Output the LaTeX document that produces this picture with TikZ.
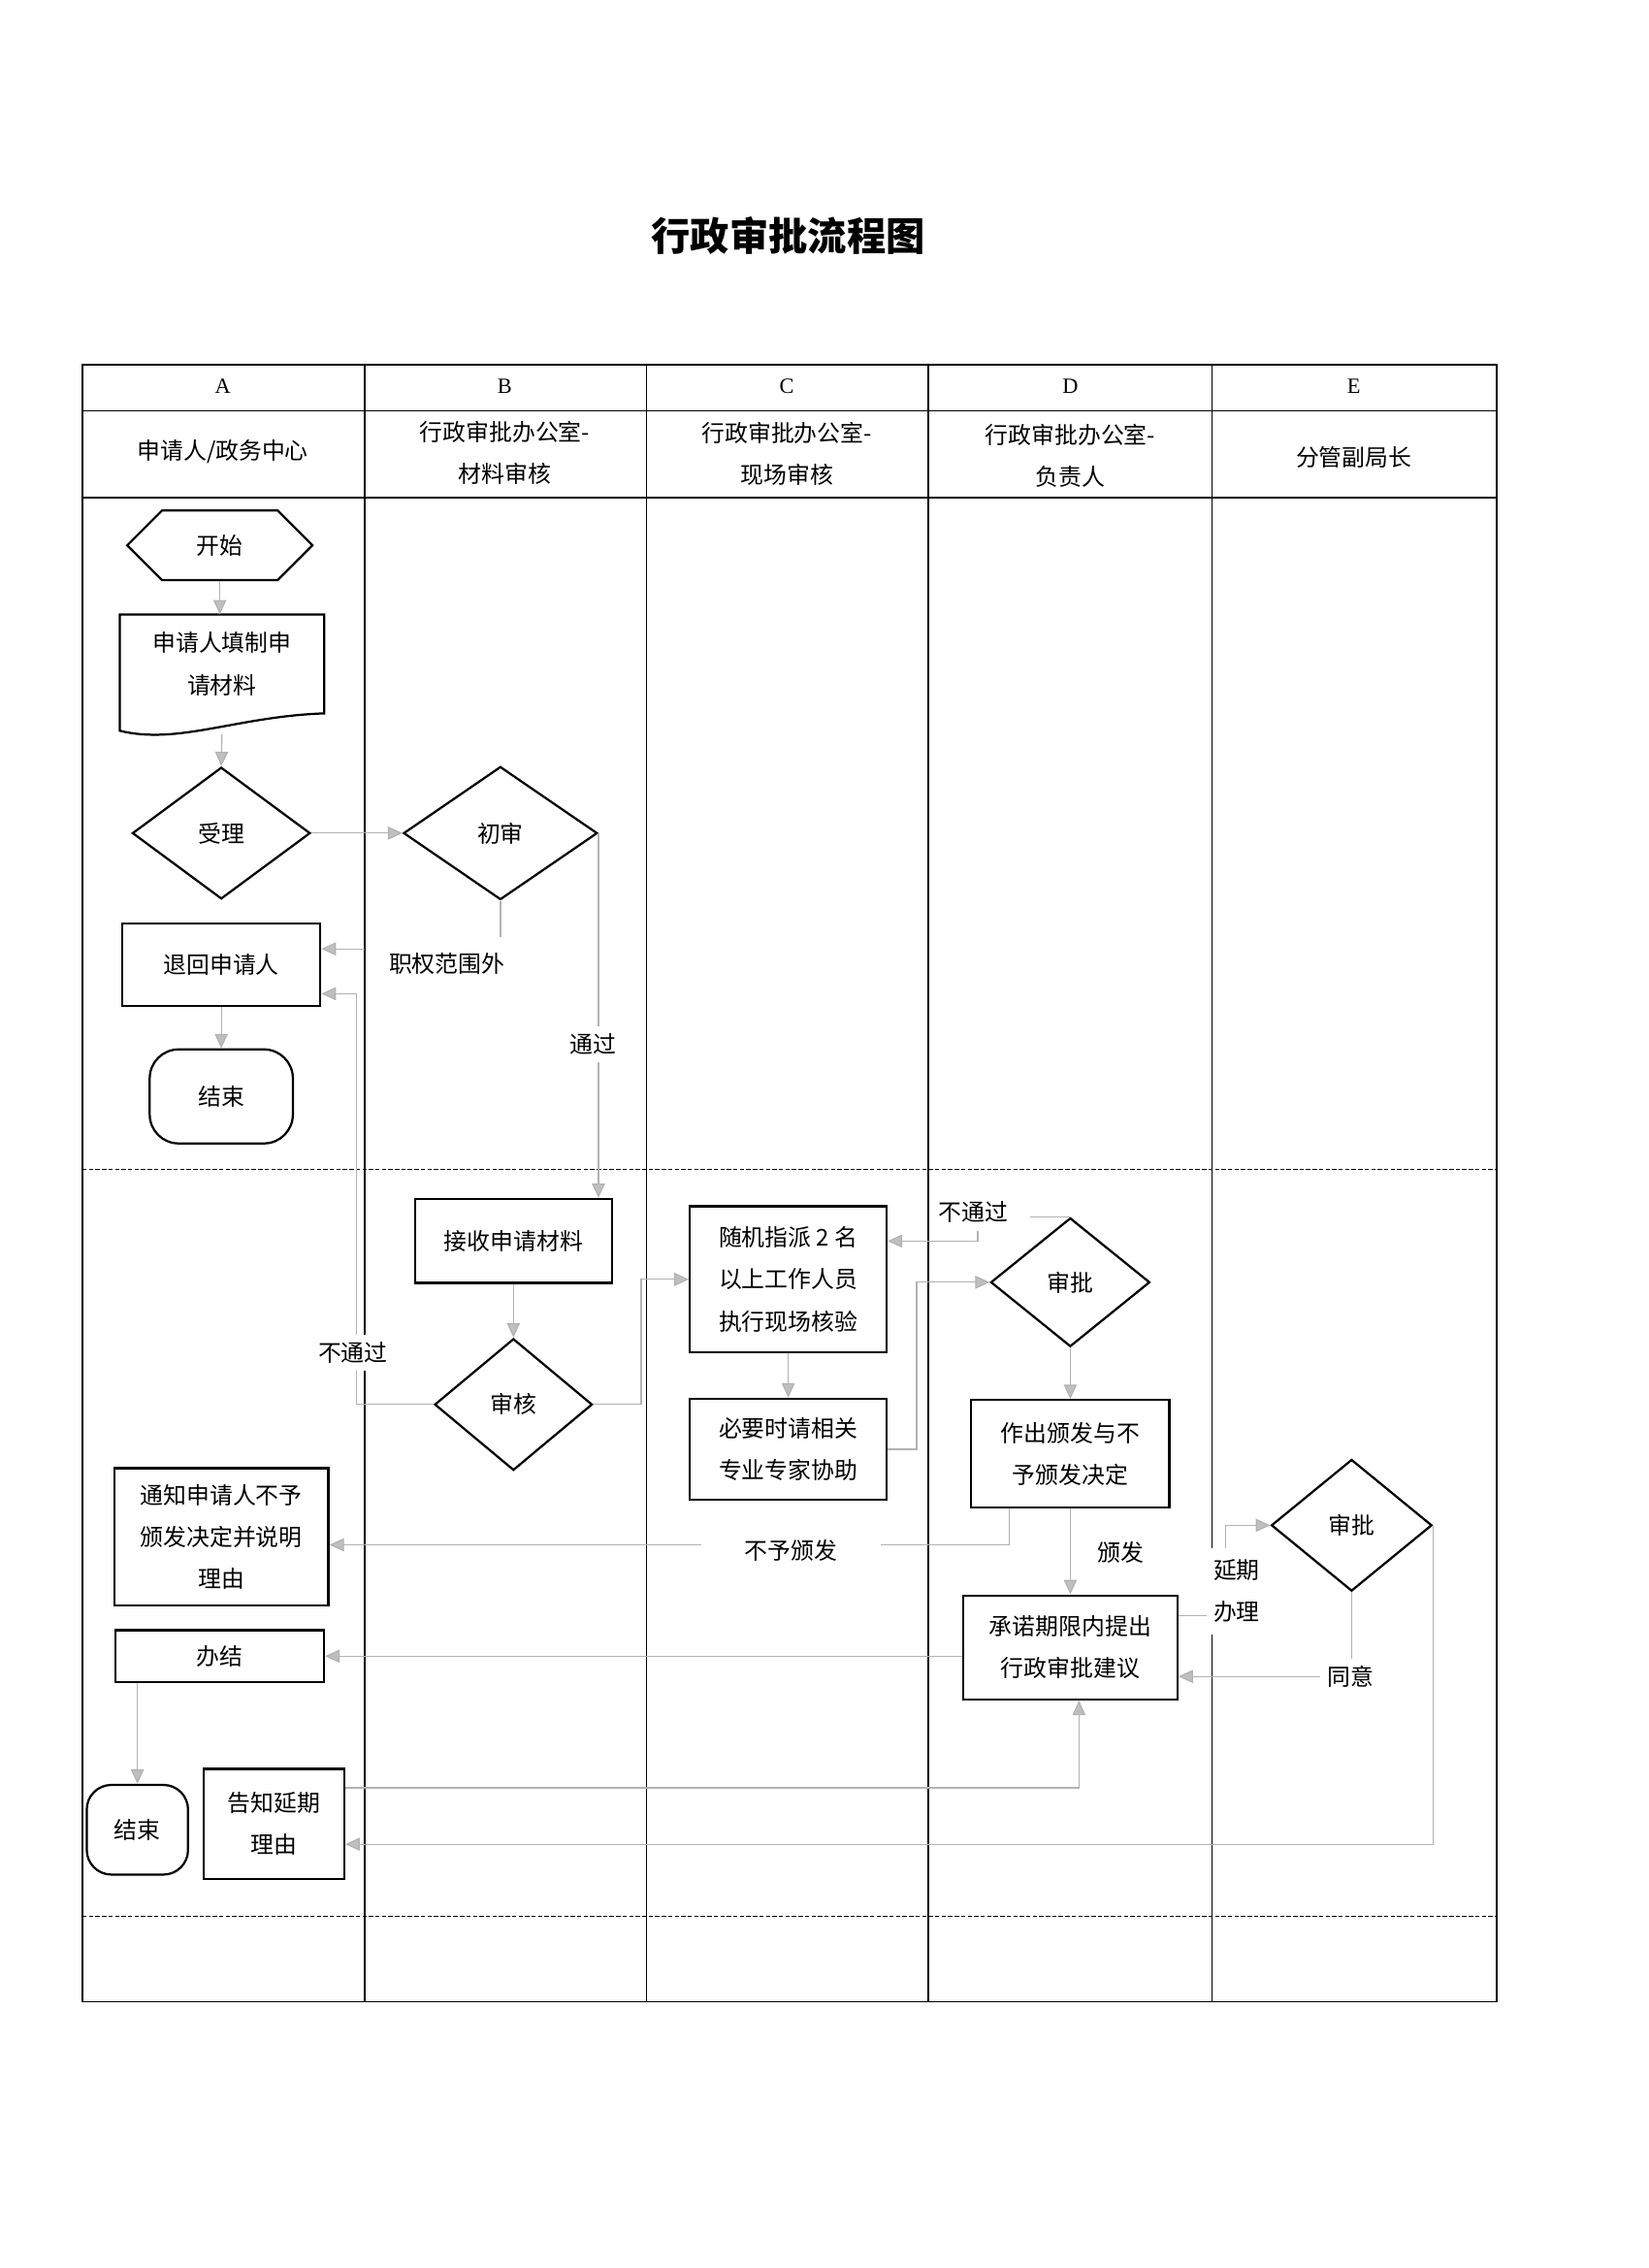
\documentclass[tikz,border=0pt]{standalone}
\usepackage{fontspec}
\setmainfont{Liberation Serif}
\newfontfamily\cjk{Noto Sans CJK SC}
\usetikzlibrary{shapes.geometric,shapes.symbols,arrows.meta}

\begin{document}
\begin{tikzpicture}[x=1pt,y=-1pt,
    zi/.style={font=\cjk\fontsize{16}{29}\selectfont, align=center},
    box/.style={zi, draw, line width=1.5pt, inner sep=0pt},
    pan/.style={zi, diamond, draw, line width=1.5pt, inner sep=0pt},
    duan/.style={zi, rectangle, rounded corners=20pt, draw, line width=1.5pt, inner sep=0pt},
    xian/.style={draw=gray!60, line width=0.8pt},
    jian/.style={xian, -{Triangle[width=9pt,length=10pt,fill=gray!50]}},
    biao/.style={zi, fill=white, inner sep=5pt}]
  \useasboundingbox (0,0) rectangle (1140,1568);

  % Tabelle
  \draw[line width=1.1pt] (57,252) rectangle (1035,1384);
  \draw[line width=1.1pt] (57,284) -- (1035,284);
  \draw[line width=1.1pt] (57,344) -- (1035,344);
  \draw[dash pattern=on 3pt off 1.5pt] (57,808) -- (1035,808);
  \draw[dash pattern=on 3pt off 1.5pt] (57,1325) -- (1035,1325);
  \foreach \x in {252,447,642,838} \draw[line width=1.1pt] (\x,252) -- (\x,1384);

  \node[font=\cjk\bfseries\fontsize{27}{30}\selectfont] (titel) at (545,163) {行政审批流程图};
  \foreach \x/\l in {154/A,349/B,544/C,740/D,936/E}
    \node[font=\fontsize{15}{17}\selectfont] (h\l) at (\x,267) {\l};
  \node[zi] (kopfA) at (154,312) {申请人/政务中心};
  \node[zi] (kopfB) at (349,313) {行政审批办公室-\\材料审核};
  \node[zi] (kopfC) at (544,314) {行政审批办公室-\\现场审核};
  \node[zi] (kopfD) at (740,315) {行政审批办公室-\\负责人};
  \node[zi] (kopfE) at (936,316) {分管副局长};

  % Knoten
  \node[box, signal, signal to=west and east, signal pointer angle=90, minimum width=128, minimum height=48] (kaishi) at (152,377) {开始};
  \node[zi, minimum width=141, minimum height=68] (tianzhi) at (153.5,459) {申请人填制申\\请材料};
  \draw[line width=1.5pt] (tianzhi.north west) -- (tianzhi.north east) -- (tianzhi.south east)
    .. controls +(-60,2) and +(40,10) .. ([yshift=-12pt]tianzhi.south west) -- cycle;
  \node[pan, minimum width=123, minimum height=91] (shouli) at (153,576) {受理};
  \node[box, minimum width=137, minimum height=57] (tuihui) at (153,667) {退回申请人};
  \node[duan, minimum width=99, minimum height=65] (jieshu) at (153,758) {结束};
  \node[pan, minimum width=134, minimum height=92] (chushen) at (346,576) {初审};
  \node[box, minimum width=136, minimum height=58] (jieshou) at (355,858) {接收申请材料};
  \node[pan, minimum width=109, minimum height=91] (shenhe) at (355,971) {审核};
  \node[box, minimum width=136, minimum height=101] (suiji) at (545,884.5) {随机指派 2 名\\以上工作人员\\执行现场核验};
  \node[box, minimum width=136, minimum height=70] (biyao) at (545,1002) {必要时请相关\\专业专家协助};
  \node[pan, minimum width=110, minimum height=89] (shenpi) at (740,886.5) {审批};
  \node[box, minimum width=137, minimum height=74] (zuochu) at (740,1005) {作出颁发与不\\予颁发决定};
  \node[box, minimum width=148, minimum height=72] (chengnuo) at (740,1139) {承诺期限内提出\\行政审批建议};
  \node[pan, minimum width=111, minimum height=91] (fushenpi) at (934.5,1054.5) {审批};
  \node[box, minimum width=148, minimum height=95] (tongzhi) at (153,1062.5) {通知申请人不予\\颁发决定并说明\\理由};
  \node[box, minimum width=144, minimum height=36] (banjie) at (152,1145) {办结};
  \node[duan, minimum width=70, minimum height=62, rounded corners=17pt] (jieshu2) at (95,1265) {结束};
  \node[box, minimum width=97, minimum height=76] (gaozhi) at (189.5,1261) {告知延期\\理由};

  % Verbindungen
  \draw[jian] (kaishi.south) -- (kaishi.south |- tianzhi.north);
  \draw[jian] ([yshift=-14pt]tianzhi.south) -- (shouli.north);
  \draw[jian] (shouli.east) -- (chushen.west);
  \draw[xian] (chushen.south) -- ++(0,25);
  \coordinate (waijie) at (252,656);
  \draw[jian] (waijie) -- (waijie -| tuihui.east);
  \draw[jian] (chushen.east) -- (chushen.east |- jieshou.north);
  \draw[jian] (tuihui.south) -- (jieshu.north);
  \draw[jian] (jieshou.south) -- (shenhe.north);
  \draw[jian] (shenhe.west) -| ([xshift=24pt,yshift=-20pt]tuihui.east) -- ([yshift=-20pt]tuihui.east);
  \draw[jian] (shenhe.east) -- ++(33,0) |- (suiji.west);
  \draw[jian] (suiji.south) -- (biyao.north);
  \draw[jian] (biyao.east) -- ++(20,0) |- (shenpi.west);
  \draw[xian] (shenpi.north) -- ++(-28,0);
  \coordinate (butong) at (676,851);
  \draw[jian] (butong) |- ([yshift=26.5pt]suiji.east);
  \draw[jian] (shenpi.south) -- (zuochu.north);
  \draw[jian] ([xshift=-42pt]zuochu.south) |- ([yshift=-5.5pt]tongzhi.east);
  \draw[jian] (zuochu.south) -- (chengnuo.north);
  \draw[jian] (chengnuo.west |- banjie.east) -- (banjie.east);
  \draw[jian] ([yshift=22pt]chengnuo.east) -| ([xshift=-31pt]fushenpi.west) -- (fushenpi.west);
  \draw[jian] (fushenpi.south) |- ([yshift=-20pt]chengnuo.east);
  \draw[jian] (fushenpi.east) |- ([yshift=-14pt]gaozhi.east);
  \draw[jian] ([yshift=25pt]gaozhi.east) -| ([xshift=6pt]chengnuo.south);
  \draw[jian] ([xshift=-57pt]banjie.south) -- ([xshift=-57pt]banjie.south |- jieshu2.north);

  % Beschriftungen
  \node[zi] (zhiquan) at (309,666) {职权范围外};
  \node[biao] (tongguo) at (410,722) {通过};
  \node[biao] (butong1) at (244,935) {不通过};
  \node[zi] (butong2) at (673,838) {不通过};
  \node[biao, inner xsep=30pt] (buyu) at (547,1072) {不予颁发};
  \node[zi] (banfa) at (775,1073) {颁发};
  \node[biao, inner ysep=8pt] (yanqi) at (855,1100) {延期\\办理};
  \node[biao] (tongyi) at (934,1159) {同意};
\end{tikzpicture}
\end{document}
